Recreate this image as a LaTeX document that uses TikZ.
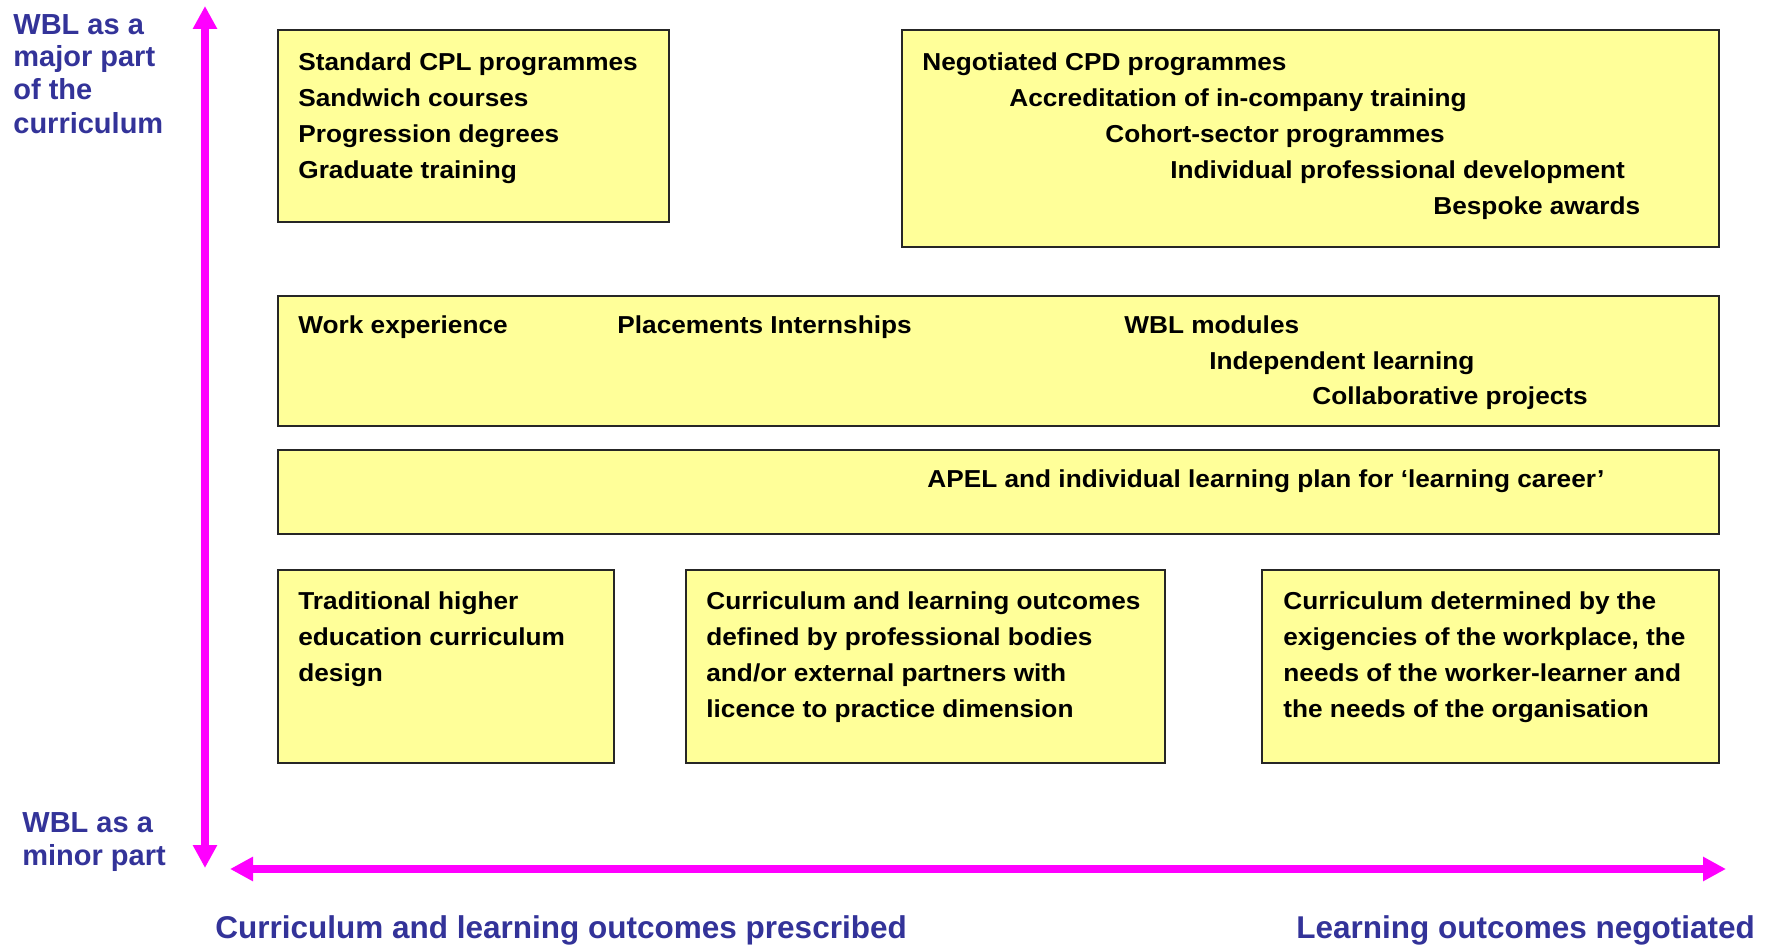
\documentclass[tikz,border=0pt]{standalone}
\usepackage{fontspec}
\setmainfont{Liberation Sans}
\newfontfamily\boxfnt[FakeStretch=1.07]{Liberation Sans}
\usetikzlibrary{arrows.meta}
\definecolor{lblue}{HTML}{333399}
\definecolor{yfill}{HTML}{FFFF99}
\definecolor{mag}{HTML}{FF00FF}
\tikzset{
  ybox/.style={draw=black!85, line width=1pt, fill=yfill, inner sep=0pt, anchor=north west},
  txt/.style={anchor=base west, inner sep=0pt, font=\boxfnt\bfseries\fontsize{12.25pt}{18pt}\selectfont, text=black},
  lbl/.style={anchor=base west, inner sep=0pt, font=\bfseries\fontsize{14.5pt}{16.5pt}\selectfont, text=lblue},
  blbl/.style={anchor=base west, inner sep=0pt, font=\bfseries\fontsize{15.75pt}{18pt}\selectfont, text=lblue},
  axis/.style={draw=mag, line width=4pt, {Triangle[length=11.5pt,width=11.5pt]}-{Triangle[length=11.5pt,width=11.5pt]}}
}
\begin{document}
\begin{tikzpicture}[x=0.5pt,y=-0.5pt]
\fill[white] (0,0) rectangle (1769,946);
\useasboundingbox (0,0) rectangle (1769,946);

% boxes
\node[ybox, minimum width=195.5pt, minimum height=96pt] (b1) at (277,29) {};
\node[ybox, minimum width=408.5pt, minimum height=108.5pt] (b2) at (901,29) {};
\node[ybox, minimum width=720.5pt, minimum height=65pt] (b3) at (277,295) {};
\node[ybox, minimum width=720.5pt, minimum height=42pt] (b4) at (277,449) {};
\node[ybox, minimum width=168pt, minimum height=96.5pt] (b5) at (277,569) {};
\node[ybox, minimum width=239.5pt, minimum height=96.5pt] (b6) at (685,569) {};
\node[ybox, minimum width=228.5pt, minimum height=96.5pt] (b7) at (1261,569) {};

% box 1
\node[txt] (t11) at (298,71) {Standard CPL programmes};
\node[txt] (t12) at (298,107) {Sandwich courses};
\node[txt] (t13) at (298,143) {Progression degrees};
\node[txt] (t14) at (298,179) {Graduate training};

% box 2
\node[txt] (t21) at (922,71) {Negotiated CPD programmes};
\node[txt] (t22) at (1009,107) {Accreditation of in-company training};
\node[txt] (t23) at (1105,143) {Cohort-sector programmes};
\node[txt] (t24) at (1170,179) {Individual professional development};
\node[txt] (t25) at (1433,215) {Bespoke awards};

% box 3
\node[txt] (t31) at (298,334) {Work experience};
\node[txt] (t32) at (617,334) {Placements Internships};
\node[txt] (t33) at (1124,334) {WBL modules};
\node[txt] (t34) at (1209,370) {Independent learning};
\node[txt] (t35) at (1312,405) {Collaborative projects};

% box 4
\node[txt] (t41) at (927,488) {APEL and individual learning plan for ‘learning career’};

% box 5
\node[txt] (t51) at (298,610) {Traditional higher};
\node[txt] (t52) at (298,646) {education curriculum};
\node[txt] (t53) at (298,682) {design};

% box 6
\node[txt] (t61) at (706,610) {Curriculum and learning outcomes};
\node[txt] (t62) at (706,646) {defined by professional bodies};
\node[txt] (t63) at (706,682) {and/or external partners with};
\node[txt] (t64) at (706,718) {licence to practice dimension};

% box 7
\node[txt] (t71) at (1283,610) {Curriculum determined by the};
\node[txt] (t72) at (1283,646) {exigencies of the workplace, the};
\node[txt] (t73) at (1283,682) {needs of the worker-learner and};
\node[txt] (t74) at (1283,718) {the needs of the organisation};

% left labels
\node[lbl] (l1) at (13,35) {WBL as a};
\node[lbl] (l2) at (13,67) {major part};
\node[lbl] (l3) at (13,100) {of the};
\node[lbl] (l4) at (13,134) {curriculum};
\node[lbl] (l5) at (22,832) {WBL as a};
\node[lbl] (l6) at (22,865) {minor part};

% bottom labels
\node[blbl] (bl1) at (215,938) {Curriculum and learning outcomes prescribed};
\node[blbl] (bl2) at (1296,938) {Learning outcomes negotiated};

% axes
\coordinate (vt) at (205,6);
\coordinate (vb) at (205,868);
\coordinate (hl) at (230,869);
\coordinate (hr) at (1726,869);
\draw[axis] (vb) -- (vt);
\draw[axis] (hl) -- (hr);
\end{tikzpicture}
\end{document}
